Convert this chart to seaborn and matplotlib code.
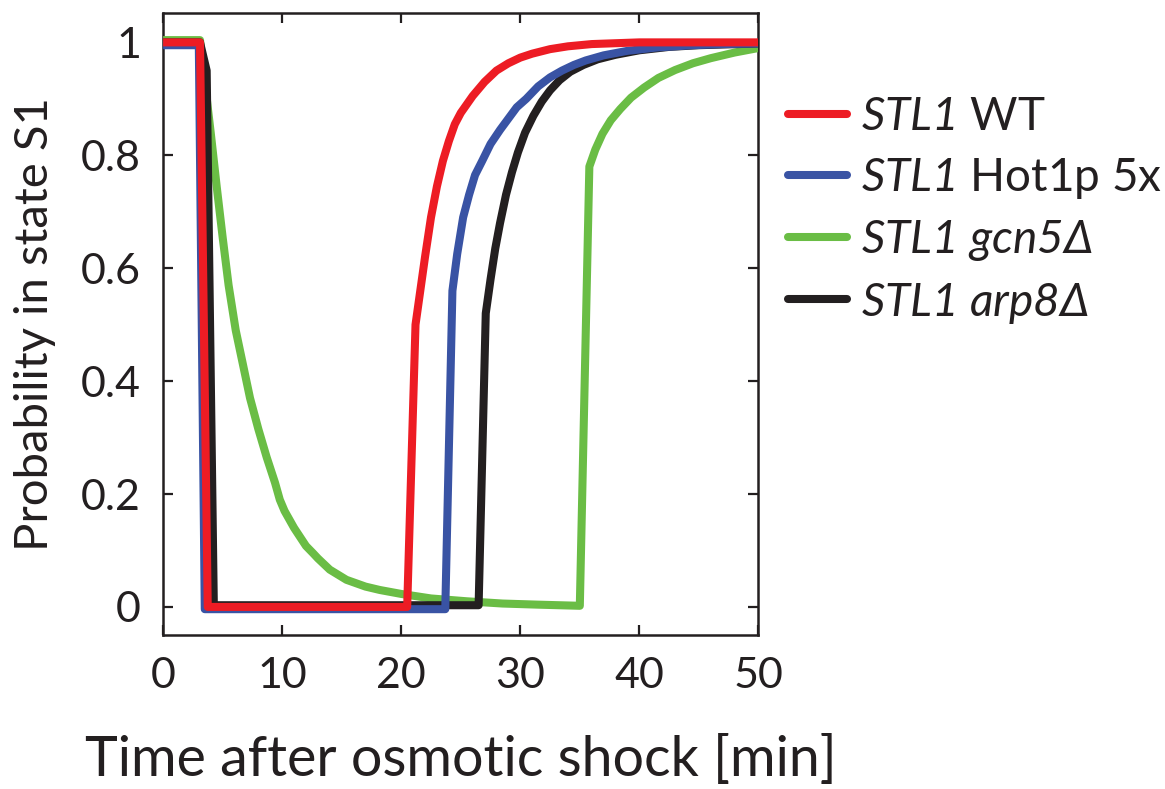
import matplotlib
matplotlib.use("Agg")
import matplotlib.pyplot as plt
import seaborn as sns
import pandas as pd
from matplotlib.lines import Line2D

# ---- data ----
series_names = ["STL1 WT", "STL1 Hot1p 5x", "STL1 gcn5Δ", "STL1 arp8Δ"]

t_wt = [0, 3.1, 3.75, 20.5, 21.2, 21.6, 22.0, 22.5, 23.0, 23.5, 24.0, 24.5, 25.0, 25.5, 26.0,
        27.0, 28.0, 29.0, 30.0, 31.0, 32.5, 34.0, 36.0, 40.0, 50.0]
p_wt = [1.0, 1.0, 0.0, 0.0, 0.50, 0.56, 0.62, 0.69, 0.745, 0.79, 0.825, 0.855, 0.875, 0.89, 0.905,
        0.93, 0.95, 0.963, 0.973, 0.98, 0.988, 0.993, 0.997, 1.0, 1.0]

t_hot = [0, 3.0, 3.5, 23.7, 24.3, 24.7, 25.2, 25.7, 26.2, 26.8, 27.5, 28.3, 29.0, 29.7, 30.5,
         31.5, 32.5, 33.5, 34.5, 35.5, 37.0, 39.0, 41.5, 44.5, 47.0, 50.0]
p_hot = [0.995, 0.995, -0.004, -0.004, 0.56, 0.625, 0.69, 0.73, 0.765, 0.79, 0.82, 0.845, 0.865, 0.885, 0.90,
         0.922, 0.938, 0.95, 0.96, 0.968, 0.977, 0.985, 0.991, 0.995, 0.997, 0.998]

t_gcn = [0, 3.1, 3.4, 3.75, 4.0, 4.5, 5.0, 5.5, 6.1, 6.7, 7.3, 8.0, 8.7, 9.4, 9.8, 10.2, 11.0,
         12.0, 12.6, 13.0, 14.0, 15.4, 17.0, 18.2, 20.0, 22.5, 25.5, 28.5, 31.5, 35.0,
         35.8, 36.3, 36.9, 37.6, 38.4, 39.3, 40.4, 41.6, 43.0, 44.5, 46.0, 48.0, 50.0]
p_gcn = [1.004, 1.004, 0.95, 0.885, 0.84, 0.745, 0.655, 0.57, 0.49, 0.43, 0.37, 0.315, 0.265, 0.22, 0.19, 0.17, 0.14,
         0.108, 0.095, 0.086, 0.066, 0.048, 0.036, 0.03, 0.023, 0.015, 0.010, 0.006, 0.004, 0.002,
         0.78, 0.81, 0.838, 0.862, 0.882, 0.902, 0.92, 0.937, 0.951, 0.963, 0.972, 0.982, 0.99]

t_arp = [0, 3.1, 3.66, 4.26, 26.5, 27.1, 27.5, 27.9, 28.3, 28.8, 29.3, 29.8, 30.4, 31.1, 31.8,
         32.5, 33.3, 34.2, 35.3, 36.5, 38.0, 40.0, 42.5, 45.0, 50.0]
p_arp = [1.0, 1.0, 0.95, 0.003, 0.003, 0.52, 0.58, 0.635, 0.68, 0.73, 0.77, 0.805, 0.84, 0.87, 0.895,
         0.915, 0.933, 0.948, 0.96, 0.97, 0.978, 0.986, 0.992, 0.995, 0.998]

x_ticks = [0, 10, 20, 30, 40, 50]
y_ticks = [0, 0.2, 0.4, 0.6, 0.8, 1]
y_tick_labels = ["0", "0.2", "0.4", "0.6", "0.8", "1"]

colors = {"STL1 WT": "#ED1C24", "STL1 Hot1p 5x": "#3953A4",
          "STL1 gcn5Δ": "#6ABD45", "STL1 arp8Δ": "#231F20"}
legend_labels = [r"$STL1$ WT", r"$STL1$ Hot1p 5x",
                 r"$STL1$ $gcn5\Delta$", r"$STL1$ $arp8\Delta$"]

# ---- style ----
sns.set_style("ticks")
plt.rcParams["font.family"] = ["Lato", "DejaVu Sans"]
plt.rcParams["mathtext.fontset"] = "custom"
plt.rcParams["mathtext.rm"] = "Lato:italic"
plt.rcParams["mathtext.it"] = "Lato:italic"
plt.rcParams["mathtext.bf"] = "Lato:bold"

fig = plt.figure(figsize=(11.65, 7.89), dpi=100)
ax = fig.add_axes([0.140, 0.195, 0.511, 0.7885])

frames = {
    "STL1 WT": (t_wt, p_wt),
    "STL1 Hot1p 5x": (t_hot, p_hot),
    "STL1 gcn5Δ": (t_gcn, p_gcn),
    "STL1 arp8Δ": (t_arp, p_arp),
}
draw_order = ["STL1 gcn5Δ", "STL1 arp8Δ", "STL1 Hot1p 5x", "STL1 WT"]
for z, name in enumerate(draw_order):
    t, p = frames[name]
    df = pd.DataFrame({"t": t, "p": p})
    sns.lineplot(data=df, x="t", y="p", ax=ax, color=colors[name], lw=5.8,
                 estimator=None, sort=False, zorder=3 + z, legend=False)
for ln in ax.get_lines():
    ln.set_solid_joinstyle("round")
    ln.set_solid_capstyle("butt")

ax.set_xlim(0, 50)
ax.set_ylim(-0.05, 1.052)
ax.set_xticks(x_ticks)
ax.set_yticks(y_ticks)
ax.set_yticklabels(y_tick_labels)
ax.tick_params(direction="in", top=True, right=True, length=7, width=1.6,
               labelsize=31, color="#231F20", labelcolor="#231F20", pad=16)
for s in ax.spines.values():
    s.set_linewidth(1.8)
    s.set_color("#231F20")

ax.set_xlabel("Time after osmotic shock [min]", fontsize=40, color="#231F20")
ax.set_ylabel("Probability in state S1", fontsize=34, color="#231F20")
ax.xaxis.set_label_coords(0.5, -0.16)
ax.yaxis.set_label_coords(-0.18, 0.5)

handles = [Line2D([0], [0], color=colors[n], lw=5.8) for n in series_names]
fig.legend(handles, legend_labels, loc="upper left",
           bbox_to_anchor=(0.676, 0.878), frameon=False, fontsize=33,
           handlelength=1.3, handletextpad=0.3, labelspacing=0.38,
           borderpad=0, borderaxespad=0, labelcolor="#231F20")

fig.savefig("out.png", dpi=100)
